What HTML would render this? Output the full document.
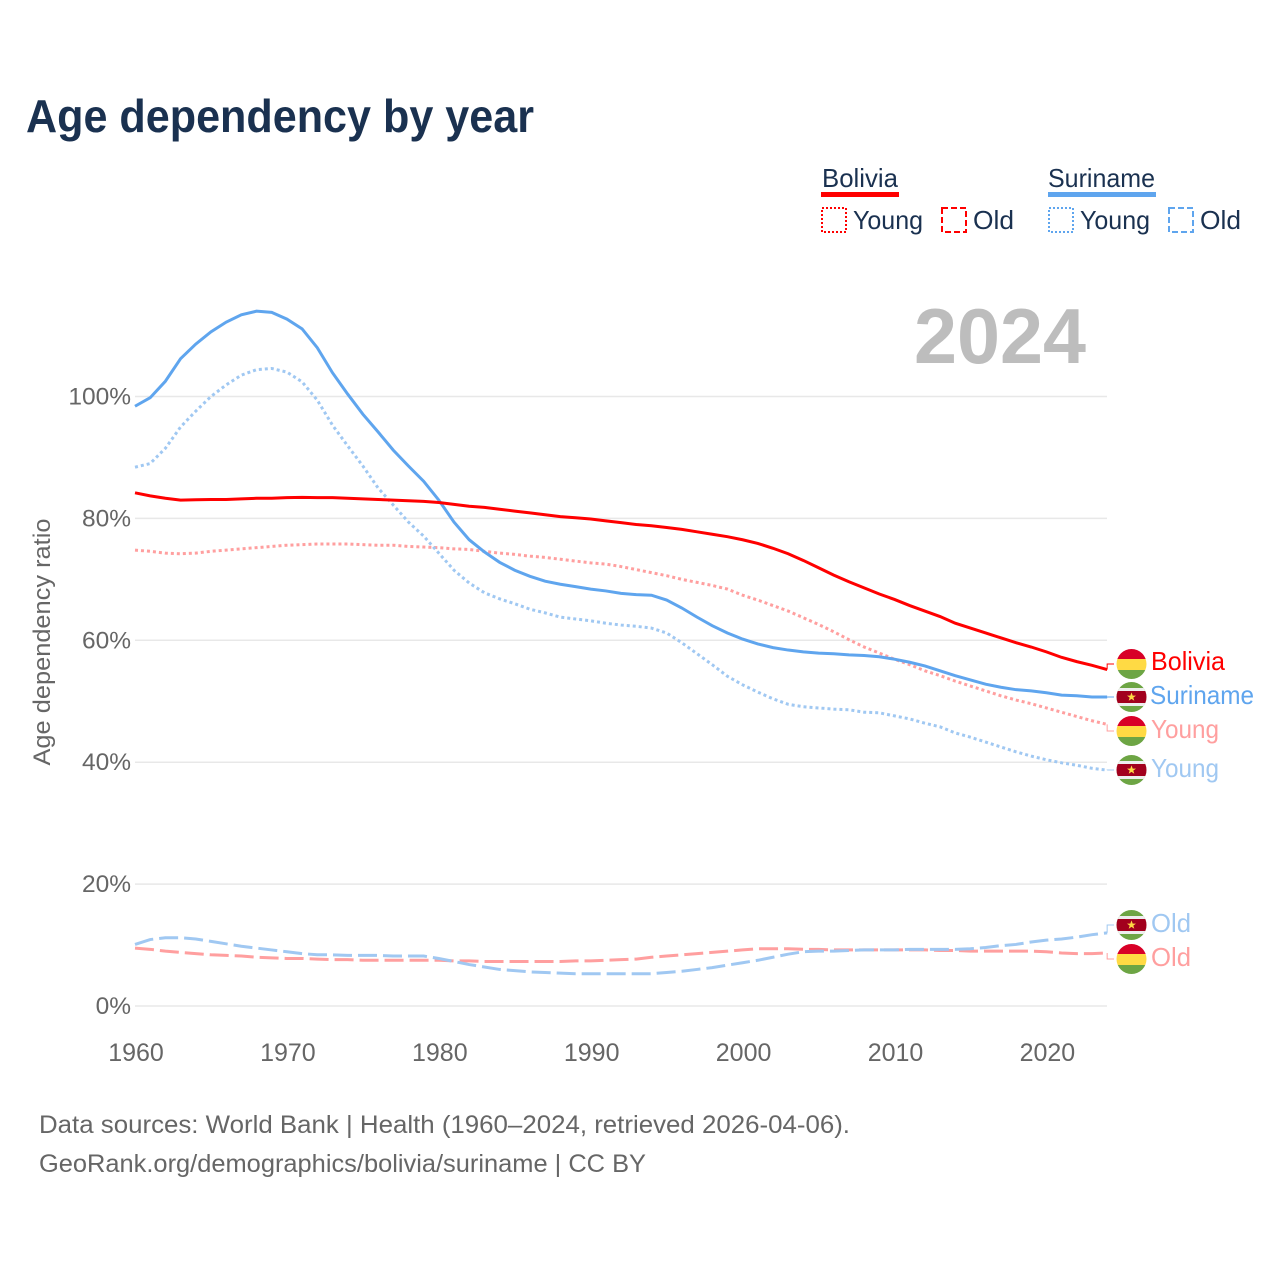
<!DOCTYPE html>
<html lang="en">
<head>
<meta charset="utf-8">
<title>Age dependency by year</title>
<style>
html,body{margin:0;padding:0;background:#fff}
svg{display:block}
text{font-family:"Liberation Sans",sans-serif}
</style>
</head>
<body>
<svg id="chart" xmlns="http://www.w3.org/2000/svg" width="1280" height="1280" viewBox="0 0 1280 1280">
<defs>
<clipPath id="flag-clip"><circle cx="0" cy="0" r="15"/></clipPath>
<g id="flag-bolivia" clip-path="url(#flag-clip)">
<rect x="-15" y="-15" width="30" height="10" fill="#d80027"/>
<rect x="-15" y="-5" width="30" height="11" fill="#ffda44"/>
<rect x="-15" y="6" width="30" height="9" fill="#6da544"/>
</g>
<g id="flag-suriname" clip-path="url(#flag-clip)">
<rect x="-15" y="-15" width="30" height="30" fill="#6da544"/>
<rect x="-15" y="-9" width="30" height="18" fill="#eeeeee"/>
<rect x="-15" y="-6" width="30" height="12" fill="#a2001d"/>
<polygon points="0,-4.6 1.2,-1.4 4.5,-1.4 1.8,0.6 2.8,3.8 0,1.9 -2.8,3.8 -1.8,0.6 -4.5,-1.4 -1.2,-1.4" fill="#ffda44"/>
</g>
</defs>

<text x="26" y="132" font-size="46" font-weight="700" fill="#1a3150" textLength="508" lengthAdjust="spacingAndGlyphs">Age dependency by year</text>

<g>
<text x="822" y="187" font-size="26" fill="#1a3150" textLength="76" lengthAdjust="spacingAndGlyphs">Bolivia</text>
<rect x="821" y="192" width="78" height="5" fill="#ff0000"/>
<rect x="822" y="208" width="24" height="24" fill="none" stroke="#ff0000" stroke-width="2" stroke-dasharray="2 2"/>
<text x="853" y="229" font-size="26" fill="#1a3150" textLength="70" lengthAdjust="spacingAndGlyphs">Young</text>
<rect x="942" y="208" width="24" height="24" fill="none" stroke="#ff0000" stroke-width="2" stroke-dasharray="6 3"/>
<text x="973" y="229" font-size="26" fill="#1a3150" textLength="41" lengthAdjust="spacingAndGlyphs">Old</text>

<text x="1048" y="187" font-size="26" fill="#1a3150" textLength="107" lengthAdjust="spacingAndGlyphs">Suriname</text>
<rect x="1048" y="192" width="108" height="5" fill="#5fa5ee"/>
<rect x="1049" y="208" width="24" height="24" fill="none" stroke="#5fa5ee" stroke-width="2" stroke-dasharray="2 2"/>
<text x="1080" y="229" font-size="26" fill="#1a3150" textLength="70" lengthAdjust="spacingAndGlyphs">Young</text>
<rect x="1169" y="208" width="24" height="24" fill="none" stroke="#5fa5ee" stroke-width="2" stroke-dasharray="6 3"/>
<text x="1200" y="229" font-size="26" fill="#1a3150" textLength="41" lengthAdjust="spacingAndGlyphs">Old</text>
</g>

<g id="grid"></g>
<text x="914" y="363" font-size="78" font-weight="700" fill="#bdbdbd" textLength="172" lengthAdjust="spacingAndGlyphs">2024</text>
<g id="y-ticks"></g>
<g id="x-ticks"></g>
<text transform="translate(50,642) rotate(-90)" text-anchor="middle" font-size="24" fill="#666666" textLength="247" lengthAdjust="spacingAndGlyphs">Age dependency ratio</text>
<g id="series"></g>
<g id="leaders"></g>

<use href="#flag-bolivia" x="1131.5" y="664"/>
<use href="#flag-suriname" x="1131.5" y="697"/>
<use href="#flag-bolivia" x="1131.5" y="731"/>
<use href="#flag-suriname" x="1131.5" y="770"/>
<use href="#flag-suriname" x="1131.5" y="925"/>
<use href="#flag-bolivia" x="1131.5" y="959"/>

<text x="1151" y="670" font-size="26" fill="#ff0000" textLength="74" lengthAdjust="spacingAndGlyphs">Bolivia</text>
<text x="1150" y="704" font-size="26" fill="#5fa5ee" textLength="104" lengthAdjust="spacingAndGlyphs">Suriname</text>
<text x="1151" y="738" font-size="26" fill="#ff9f9f" textLength="68" lengthAdjust="spacingAndGlyphs">Young</text>
<text x="1151" y="777" font-size="26" fill="#a0c8f2" textLength="68" lengthAdjust="spacingAndGlyphs">Young</text>
<text x="1151" y="932" font-size="26" fill="#a0c8f2" textLength="40" lengthAdjust="spacingAndGlyphs">Old</text>
<text x="1151" y="966" font-size="26" fill="#ff9f9f" textLength="40" lengthAdjust="spacingAndGlyphs">Old</text>

<text x="39" y="1133" font-size="25" fill="#666666" textLength="811" lengthAdjust="spacingAndGlyphs">Data sources: World Bank | Health (1960–2024, retrieved 2026-04-06).</text>
<text x="39" y="1172" font-size="25" fill="#666666" textLength="607" lengthAdjust="spacingAndGlyphs">GeoRank.org/demographics/bolivia/suriname | CC BY</text>
</svg>
<script>
var startYear = 1960;
var yTickValues = [0, 20, 40, 60, 80, 100];
var yTickLabels = ['0%', '20%', '40%', '60%', '80%', '100%'];
var xTickValues = [1960, 1970, 1980, 1990, 2000, 2010, 2020];

var boliviaTotal = [
84.2,83.7,83.3,83.0,83.05,83.1,83.1,83.2,83.3,83.3,
83.4,83.45,83.4,83.4,83.3,83.2,83.1,83.0,82.9,82.8,
82.6,82.3,82.0,81.8,81.5,81.2,80.9,80.6,80.3,80.1,
79.9,79.6,79.3,79.0,78.8,78.5,78.2,77.8,77.4,77.0,
76.5,75.9,75.1,74.2,73.1,71.9,70.7,69.6,68.6,67.6,
66.7,65.7,64.8,63.9,62.8,62.0,61.2,60.4,59.6,58.9,
58.1,57.2,56.5,55.9,55.2
];
var surinameTotal = [
98.4,99.8,102.5,106.2,108.6,110.6,112.2,113.4,114.0,113.8,
112.7,111.1,108.0,103.9,100.4,97.1,94.2,91.2,88.6,86.1,
83.0,79.4,76.5,74.5,72.8,71.5,70.5,69.7,69.2,68.8,
68.4,68.1,67.7,67.5,67.4,66.6,65.3,63.8,62.4,61.2,
60.2,59.4,58.8,58.4,58.1,57.9,57.8,57.6,57.5,57.3,
56.9,56.4,55.8,55.0,54.2,53.5,52.8,52.3,51.9,51.7,
51.4,51.0,50.9,50.7,50.7
];
var boliviaYoung = [
74.8,74.6,74.3,74.2,74.3,74.6,74.8,75.0,75.2,75.4,
75.6,75.7,75.8,75.8,75.8,75.7,75.6,75.6,75.4,75.3,
75.2,75.0,74.9,74.6,74.3,74.1,73.8,73.6,73.3,73.0,
72.7,72.5,72.1,71.6,71.1,70.6,70.0,69.5,69.0,68.4,
67.4,66.6,65.7,64.8,63.7,62.6,61.4,60.1,58.9,57.9,
56.9,56.0,55.0,54.2,53.3,52.5,51.7,50.9,50.2,49.6,
48.9,48.2,47.5,46.8,46.2
];
var surinameYoung = [
88.4,89.0,91.5,95.0,97.6,100.0,101.9,103.5,104.4,104.6,
104.0,102.4,99.4,95.3,91.9,88.6,85.0,82.2,79.4,77.1,
74.3,71.5,69.4,67.8,66.8,66.0,65.1,64.5,63.8,63.5,
63.2,62.8,62.5,62.3,62.0,61.2,59.6,57.8,56.0,54.1,
52.7,51.5,50.4,49.5,49.1,48.9,48.7,48.6,48.2,48.1,
47.6,47.1,46.4,45.8,44.8,44.1,43.3,42.5,41.7,41.0,
40.4,39.9,39.5,39.0,38.7
];
var boliviaOld = [
9.5,9.3,9.0,8.8,8.6,8.4,8.3,8.2,8.0,7.9,
7.8,7.8,7.7,7.6,7.6,7.5,7.5,7.5,7.5,7.5,
7.5,7.4,7.4,7.3,7.3,7.3,7.3,7.3,7.3,7.4,
7.4,7.5,7.6,7.7,8.0,8.2,8.4,8.6,8.8,9.0,
9.2,9.4,9.4,9.4,9.3,9.3,9.2,9.2,9.2,9.2,
9.2,9.2,9.2,9.1,9.1,9.0,9.0,9.0,9.0,9.0,
8.9,8.7,8.6,8.6,8.7
];
var surinameOld = [
10.1,10.9,11.2,11.2,11.0,10.6,10.2,9.8,9.5,9.2,
8.9,8.6,8.4,8.4,8.3,8.3,8.3,8.2,8.2,8.2,
7.8,7.3,6.8,6.4,6.0,5.8,5.6,5.5,5.4,5.3,
5.3,5.3,5.3,5.3,5.3,5.5,5.7,6.0,6.3,6.7,
7.1,7.5,8.0,8.5,8.9,9.0,9.0,9.1,9.2,9.2,
9.2,9.3,9.3,9.3,9.3,9.4,9.6,9.9,10.1,10.5,
10.8,11.0,11.3,11.7,12.0
];

var SVG_NS = 'http://www.w3.org/2000/svg';
function xScale(year) { return 135 + (year - 1960) * 15.19; }
function yScale(v) { return 1006 - v * 6.095; }
function make(tag, attrs, parent) {
  var el = document.createElementNS(SVG_NS, tag);
  for (var k in attrs) el.setAttribute(k, attrs[k]);
  parent.appendChild(el);
  return el;
}

var gridGroup = document.getElementById('grid');
var yTickGroup = document.getElementById('y-ticks');
yTickValues.forEach(function (v, i) {
  var line = make('line', {x1: 135, x2: 1107, y1: yScale(v), y2: yScale(v), stroke: '#e8e8e8', 'stroke-width': 1.5}, gridGroup);
  
  
  var t = make('text', {x: 131, y: yScale(v) + 8, 'text-anchor': 'end', 'font-size': 24.5, fill: '#666666'}, yTickGroup);
  t.textContent = yTickLabels[i];
  
  
});

var xTickGroup = document.getElementById('x-ticks');
xTickValues.forEach(function (year) {
  var t = make('text', {x: xScale(year) + 1, y: 1061, 'text-anchor': 'middle', 'font-size': 25, fill: '#666666'}, xTickGroup);
  t.textContent = String(year);
  
  
});

function pathFor(values) {
  return values.map(function (v, i) {
    return (i ? 'L' : 'M') + xScale(startYear + i).toFixed(2) + ',' + yScale(v).toFixed(2);
  }).join(' ');
}
function leaderFor(values, targetY) {
  var endX = xScale(startYear + values.length - 1);
  var endY = yScale(values[values.length - 1]);
  return 'M' + endX.toFixed(2) + ',' + endY.toFixed(2) + ' V' + targetY + ' H1114';
}

var seriesGroup = document.getElementById('series');
var leaderGroup = document.getElementById('leaders');

var l1 = make('path', {d: pathFor(boliviaOld), fill: 'none', stroke: '#ff9f9f', 'stroke-width': 3, 'stroke-dasharray': '19 6'}, seriesGroup);


var l2 = make('path', {d: pathFor(surinameOld), fill: 'none', stroke: '#a0c8f2', 'stroke-width': 3, 'stroke-dasharray': '19 6'}, seriesGroup);


var l3 = make('path', {d: pathFor(boliviaYoung), fill: 'none', stroke: '#ff9f9f', 'stroke-width': 3, 'stroke-dasharray': '3 3'}, seriesGroup);


var l4 = make('path', {d: pathFor(surinameYoung), fill: 'none', stroke: '#a0c8f2', 'stroke-width': 3, 'stroke-dasharray': '3 3'}, seriesGroup);


var l5 = make('path', {d: pathFor(surinameTotal), fill: 'none', stroke: '#5fa5ee', 'stroke-width': 3}, seriesGroup);


var l6 = make('path', {d: pathFor(boliviaTotal), fill: 'none', stroke: '#ff0000', 'stroke-width': 3}, seriesGroup);



var c1 = make('path', {d: leaderFor(boliviaTotal, 664), fill: 'none', stroke: '#ff0000', 'stroke-width': 1}, leaderGroup);


var c2 = make('path', {d: leaderFor(surinameTotal, 697), fill: 'none', stroke: '#5fa5ee', 'stroke-width': 1}, leaderGroup);


var c3 = make('path', {d: leaderFor(boliviaYoung, 731), fill: 'none', stroke: '#ff9f9f', 'stroke-width': 1}, leaderGroup);


var c4 = make('path', {d: leaderFor(surinameYoung, 770), fill: 'none', stroke: '#a0c8f2', 'stroke-width': 1}, leaderGroup);


var c5 = make('path', {d: leaderFor(surinameOld, 925), fill: 'none', stroke: '#a0c8f2', 'stroke-width': 1}, leaderGroup);


var c6 = make('path', {d: leaderFor(boliviaOld, 959), fill: 'none', stroke: '#ff9f9f', 'stroke-width': 1}, leaderGroup);


</script>
</body>
</html>
